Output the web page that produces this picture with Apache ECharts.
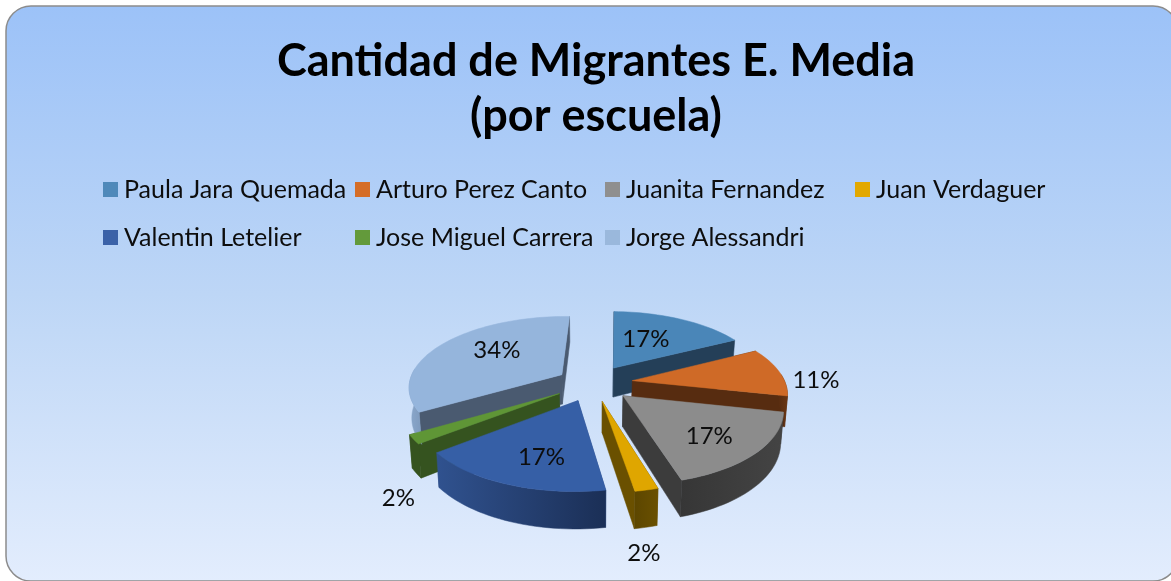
<!DOCTYPE html>
<html><head><meta charset="utf-8">
<style>html,body{margin:0;padding:0;background:#fff}#c{width:1171px;height:581px}</style>
<script src="https://cdn.jsdelivr.net/npm/echarts@6/dist/echarts.min.js"></script>
</head><body><div id="c"></div>
<script>
const titleLines = ['Cantidad de Migrantes E. Media', '(por escuela)'];
const schools = ['Paula Jara Quemada','Arturo Perez Canto','Juanita Fernandez','Juan Verdaguer','Valentin Letelier','Jose Miguel Carrera','Jorge Alessandri'];
const migrants = [17, 11, 17, 2, 17, 2, 34];
const topColors = ['#4A86B8','#CF6A27','#8C8C8C','#DFA600','#365FA6','#5F9636','#95B5DC'];
const legendColors = ['#4F89BA','#D56D27','#8F8F8F','#E2A800','#3B62A8','#639A3B','#9AB8DC'];
const sideColors = ['#243F58','#572C10','#3C3C3C','#6A5000','#34558F','#35531F','#4A5A70'];
const outerLeft = ['#243F58','#6A3614','#444444','#6A5000','#30528F','#35531F','#8BA8CC'];
const outerRight = ['#243F58','#572C10','#363636','#5C4600','#1B2F56','#35531F','#7E9ABD'];
const explodeBy = [0.26, 0.26, 0.26, 0.26, 0.26, 0.26, 0.24];
const labelRadial = [0.54, 1.21, 0.70, 1.51, 0.69, 1.40, 0.61];
const labelTurn = [-5, 7, 3, 6, -5, -21, 9];
const legendLeft = [103, 355, 605, 855, 103, 355, 605];
const legendTop = [177, 177, 177, 177, 225, 225, 225];

const total = migrants.reduce((a, b) => a + b, 0);
const PIE = {cx: 593, cy: 383, R: 153, Ry: 70, p: 0.16, depth: 30, rotate: 1.5};
const rad = d => d * Math.PI / 180;

function project(u, v, z) {
  const f = 1 / (1 - PIE.p * v);
  return [PIE.cx + u * PIE.R * f * (1 - z * 0.015), PIE.cy + PIE.Ry * v * f + z * PIE.depth * f];
}
let running = 0;
const slices = migrants.map((val, i) => {
  const a0 = running / total * 360 + PIE.rotate;
  running += val;
  const a1 = running / total * 360 + PIE.rotate;
  const mid = (a0 + a1) / 2;
  return {i, val, a0, a1, mid, ou: explodeBy[i] * Math.sin(rad(mid)), ov: -explodeBy[i] * Math.cos(rad(mid))};
});
function pt(s, ang, r, z) {
  return project(s.ou + r * Math.sin(rad(ang)), s.ov - r * Math.cos(rad(ang)), z);
}
function arc(s, a, b, z) {
  const out = [], n = Math.max(4, Math.ceil(Math.abs(b - a) / 2));
  for (let k = 0; k <= n; k++) out.push(pt(s, a + (b - a) * k / n, 1, z));
  return out;
}
function poly(points, fill, z2) {
  return {type: 'polygon', z2, shape: {points}, style: {fill, stroke: fill, lineWidth: 0.5}};
}
function renderSlice(s) {
  return function () {
    const i = s.i, kids = [];
    const apexT = pt(s, s.a0, 0, 0), apexB = pt(s, s.a0, 0, 1);
    const walls = [s.a0, s.a1].map(a => {
      const e0 = pt(s, a, 1, 0), e1 = pt(s, a, 1, 1);
      return {points: [apexT, e0, e1, apexB], depth: (apexT[1] + e0[1]) / 2};
    }).sort((a, b) => a.depth - b.depth);
    walls.forEach((w, k) => kids.push(poly(w.points, sideColors[i], 1 + k)));
    const wa = Math.max(s.a0, 85), wb = Math.min(s.a1, 275);
    if (wb > wa) {
      const t = arc(s, wa, wb, 0), b = arc(s, wa, wb, 1).reverse();
      kids.push(poly(t.concat(b), {type: 'linear', x: 0, y: 0, x2: 1, y2: 0,
        colorStops: wb <= 180 ? [{offset: 0, color: outerRight[i]}, {offset: 1, color: outerLeft[i]}]
                              : [{offset: 0, color: outerLeft[i]}, {offset: 1, color: outerRight[i]}]}, 4));
    }
    kids.push(poly([apexT].concat(arc(s, s.a0, s.a1, 0)), topColors[i], 5));
    const la = s.mid + labelTurn[i], lp = pt(s, la, labelRadial[i], 0);
    kids.push({type: 'text', z2: 6, style: {x: lp[0], y: lp[1], text: Math.round(s.val / total * 100) + '%',
      fill: '#0d0d0d', font: '24px Lato', align: 'center', verticalAlign: 'middle'}});
    return {type: 'group', children: kids};
  };
}
const paintOrder = slices.slice().sort((a, b) => a.ov - b.ov);
const series = paintOrder.map(s => ({
  type: 'custom', name: schools[s.i], coordinateSystem: 'none', silent: true, animation: false,
  itemStyle: {color: legendColors[s.i]}, data: [[s.val]], renderItem: renderSlice(s)
}));
const legends = schools.map((n, i) => ({
  left: legendLeft[i], top: legendTop[i], padding: 0, icon: 'rect', itemWidth: 15, itemHeight: 15, itemGap: 7,
  selectedMode: false, data: [{name: n, itemStyle: {color: legendColors[i]}}],
  textStyle: {fontFamily: 'Lato', fontSize: 25, color: '#0d0d0d', padding: [0, 0, 0, 1]}
}));
const chart = echarts.init(document.getElementById('c'), null, {renderer: 'canvas'});
chart.setOption({
  animation: false, backgroundColor: '#fff',
  graphic: [{type: 'rect', z: -10, silent: true, shape: {x: 6, y: 6, width: 1172, height: 575, r: 25},
    style: {stroke: '#8c8c8c', lineWidth: 1.5, fill: {type: 'linear', x: 0, y: 0, x2: 0, y2: 1,
      colorStops: [{offset: 0, color: '#9CC2F8'}, {offset: 0.5, color: '#BDD6F6'}, {offset: 1, color: '#E3EDFD'}]}}}],
  title: {text: titleLines.join('\n'), left: 591, top: 29, textAlign: 'center',
    textStyle: {fontFamily: 'Lato', fontWeight: 'bold', fontSize: 45, lineHeight: 55, color: '#000'}},
  legend: legends,
  series
});
</script></body></html>
